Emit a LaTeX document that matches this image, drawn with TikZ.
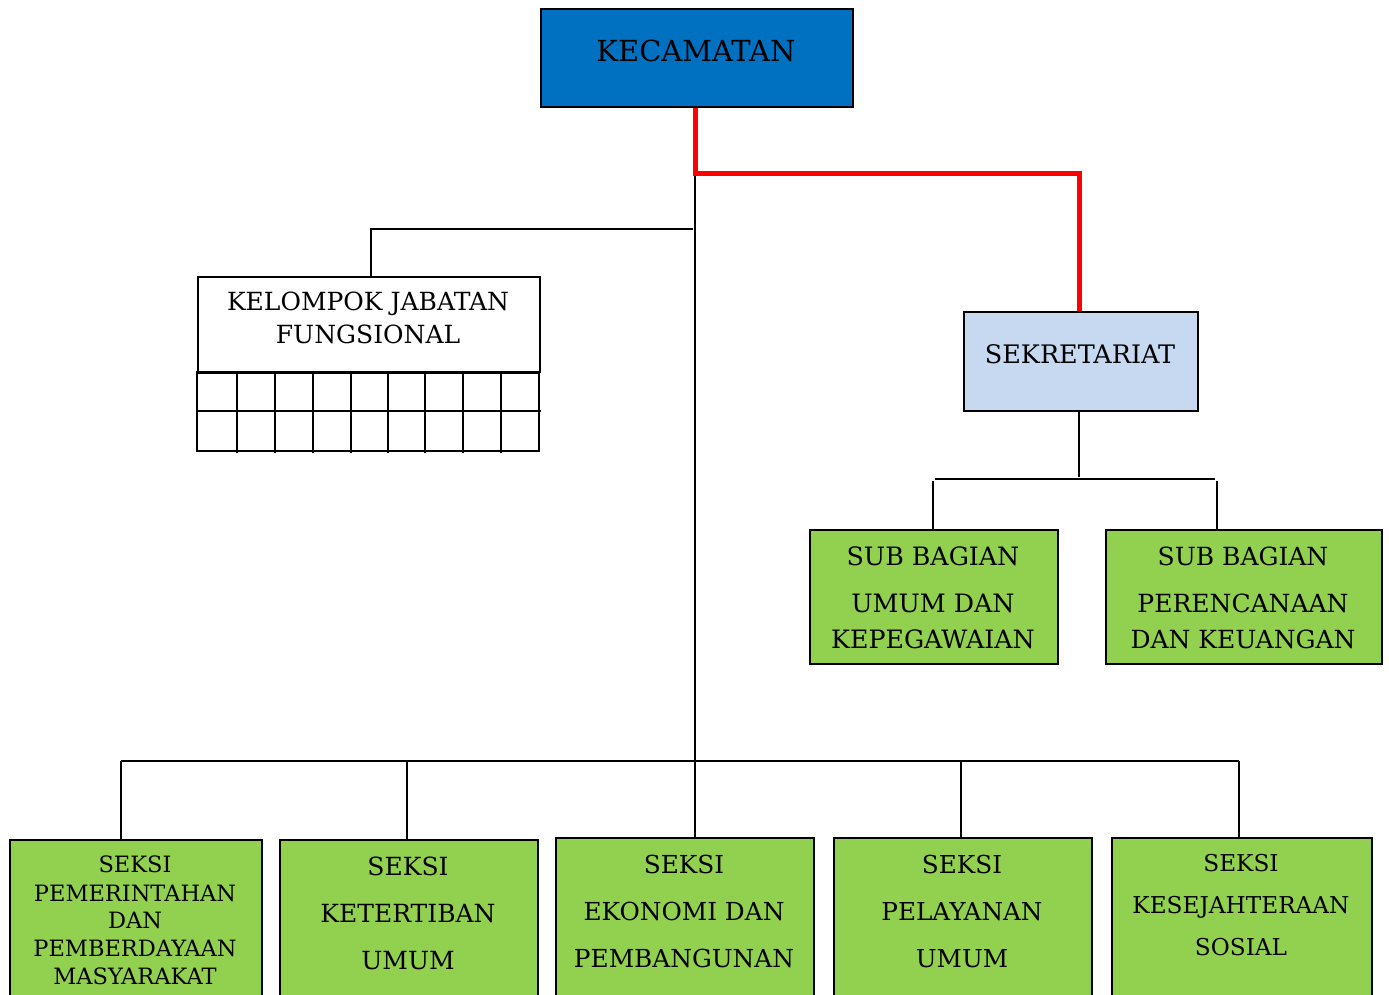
\documentclass[tikz,border=0pt]{standalone}
\usepackage{fontspec}
\setmainfont{DejaVu Serif}
\definecolor{kecblue}{HTML}{0070C0}
\definecolor{sekblue}{HTML}{C6D9F1}
\definecolor{boxgreen}{HTML}{92D050}
\begin{document}
\begin{tikzpicture}[x=1pt,y=-1pt,
  box/.style={draw=black,line width=1.6pt,rectangle,anchor=north west,inner sep=0pt},
  txt/.style={inner sep=0pt,anchor=base,font=\fontsize{#1}{#1}\selectfont,yshift=-0.3645*#1 pt},
  conn/.style={draw=black,line width=1.6pt},
  redconn/.style={draw=red,line width=5pt}]
\useasboundingbox (0,0) rectangle (1389,994);
\clip (0,0) rectangle (1389,994);
% boxes
\node[box,fill=kecblue,minimum width=312pt,minimum height=98pt] (kec) at (540,8) {};
\node[box,fill=white,minimum width=342pt,minimum height=95pt] (kjf) at (197,276) {};
\node[box,fill=sekblue,minimum width=234pt,minimum height=99pt] (sek) at (963,311) {};
\node[box,fill=boxgreen,minimum width=248pt,minimum height=134pt] (sb1) at (809,529) {};
\node[box,fill=boxgreen,minimum width=276pt,minimum height=134pt] (sb2) at (1105,529) {};
\node[box,fill=boxgreen,minimum width=252pt,minimum height=180pt] (s1) at (9,839) {};
\node[box,fill=boxgreen,minimum width=258pt,minimum height=180pt] (s2) at (279,839) {};
\node[box,fill=boxgreen,minimum width=258pt,minimum height=180pt] (s3) at (555,837) {};
\node[box,fill=boxgreen,minimum width=258pt,minimum height=180pt] (s4) at (833,837) {};
\node[box,fill=boxgreen,minimum width=260pt,minimum height=180pt] (s5) at (1111,837) {};
% grid under KJF
\draw[line width=1.6pt] (197,371) -- (197,451) -- (539,451) -- (539,371);
\draw[line width=1.6pt] (197,373) -- (539,373);
\draw[line width=1.6pt] (197,411) -- (541,411);
\foreach \gx in {237,275,313,351,388,425,463,501}
  \draw[line width=1.6pt] (\gx,371) -- (\gx,453);
% texts
\node[txt=29] (tkec) at (696,51) {KECAMATAN};
\node[txt=25] (tkjf1) at (368,301) {KELOMPOK JABATAN};
\node[txt=25] (tkjf2) at (368,334) {FUNGSIONAL};
\node[txt=25.5] (tsek) at (1080,354) {SEKRETARIAT};
\foreach \t/\yy [count=\i] in {SUB BAGIAN/556,UMUM DAN/603,KEPEGAWAIAN/639}
  \node[txt=25.3] (tsba\i) at (933,\yy) {\t};
\foreach \t/\yy [count=\i] in {SUB BAGIAN/556,PERENCANAAN/603,DAN KEUANGAN/639}
  \node[txt=25] (tsbb\i) at (1243,\yy) {\t};
\foreach \t/\yy [count=\i] in {SEKSI/864,PEMERINTAHAN/893,DAN/920,PEMBERDAYAAN/948,MASYARAKAT/976}
  \node[txt=22.5] (tsa\i) at (135,\yy) {\t};
\foreach \t/\yy [count=\i] in {SEKSI/866,KETERTIBAN/913,UMUM/960}
  \node[txt=25] (tsb\i) at (408,\yy) {\t};
\foreach \t/\yy [count=\i] in {SEKSI/864,EKONOMI DAN/911,PEMBANGUNAN/958}
  \node[txt=24.8] (tsc\i) at (684,\yy) {\t};
\foreach \t/\yy [count=\i] in {SEKSI/864,PELAYANAN/911,UMUM/958}
  \node[txt=24.7] (tsd\i) at (962,\yy) {\t};
\foreach \t/\yy [count=\i] in {SEKSI/863,KESEJAHTERAAN/905,SOSIAL/947}
  \node[txt=23.2] (tse\i) at (1241,\yy) {\t};
% connector coordinates
\coordinate (j1) at (695,173);
\coordinate (kl) at (693,229);
\coordinate (kc) at (371,229);
\coordinate (sj) at (1079,477);
\coordinate (sl) at (935,479);
\coordinate (sr) at (1215,479);
\coordinate (sa) at (933,481);
\coordinate (sb) at (1217,481);
\coordinate (bl) at (121,761);
\coordinate (br) at (1239,761);
% connectors
\draw[conn] (j1) -- (j1 |- s3.north);
\draw[conn] (kl) -- (kc) -- (kc |- kjf.north);
\draw[conn] (sek.south -| sj) -- (sj);
\draw[conn] (sl) -- (sr);
\draw[conn] (sa) -- (sa |- sb1.north);
\draw[conn] (sb) -- (sb |- sb2.north);
\draw[conn] (bl) -- (br);
\draw[conn] (bl) -- (bl |- s1.north);
\draw[conn] (407,761) -- (407,839);
\draw[conn] (961,761) -- (961,837);
\draw[conn] (br) -- (br |- s5.north);
\draw[redconn] (kec.south -| j1) -- (j1) -| (sek.north -| sj);
\end{tikzpicture}
\end{document}
